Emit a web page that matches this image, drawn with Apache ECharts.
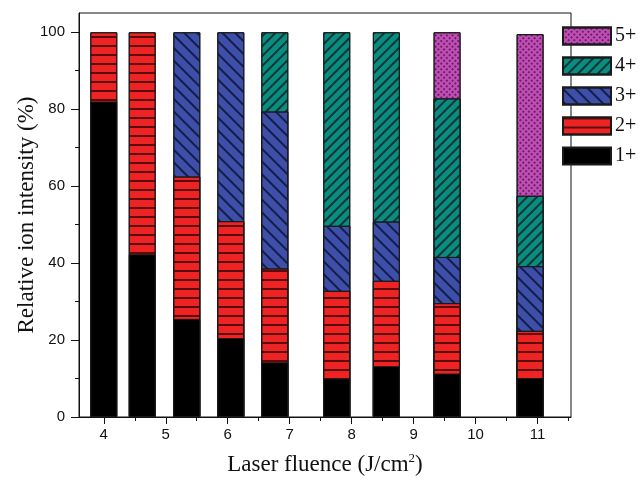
<!DOCTYPE html>
<html>
<head>
<meta charset="utf-8">
<script src="https://cdn.jsdelivr.net/npm/echarts@6/dist/echarts.min.js"></script>
<style>
  html, body { margin: 0; padding: 0; background: #fff; }
  #chart { width: 640px; height: 481px; }
</style>
</head>
<body>
<div id="chart"></div>
<script>
  // laser fluence of each bar (J/cm2)
  var fluence = [4.0, 4.62, 5.34, 6.05, 6.76, 7.76, 8.56, 9.54, 10.88];
  // relative ion intensity per charge state (%)
  var ion1 = [82.0, 42.3, 25.5, 20.5, 14.2, 10.0, 13.2, 11.3, 10.1];
  var ion2 = [18.0, 57.7, 37.0, 30.4, 24.4, 22.8, 22.2, 18.3, 12.3];
  var ion3 = [null, null, 37.5, 49.1, 40.8, 16.9, 15.4, 12.0, 16.8];
  var ion4 = [null, null, null, null, 20.6, 50.3, 49.2, 41.2, 18.3];
  var ion5 = [null, null, null, null, null, null, null, 17.2, 42.0];
  var xTicks = [4, 5, 6, 7, 8, 9, 10, 11];
  var xMinor = [4.5, 5.5, 6.5, 7.5, 8.5, 9.5, 10.5, 11.5];
  var yTicks = [0, 20, 40, 60, 80, 100];
  var yMinor = [10, 30, 50, 70, 90];

  var serif = '"Liberation Serif", "Times New Roman", serif';
  var sans = '"Liberation Sans", Arial, sans-serif';

  // stack on a value axis by hand: each layer is drawn from 0 up to its
  // running total, upper layers behind, lower layers on top
  var layers = [ion1, ion2, ion3, ion4, ion5];
  function cumulative(k) {
    return fluence.map(function (x, i) {
      if (layers[k][i] == null) return [x, null];
      var s = 0;
      for (var j = 0; j <= k; j++) s += layers[j][i] || 0;
      return [x, s];
    });
  }

  function bar(name, k, color, decal) {
    return {
      name: name,
      type: 'bar',
      barWidth: 27,
      barGap: '-100%',
      xAxisIndex: 0,
      yAxisIndex: 0,
      itemStyle: {
        color: color,
        borderColor: '#1a1a1a',
        borderWidth: 1,
        decal: decal
      },
      data: cumulative(k)
    };
  }

  var chart = echarts.init(document.getElementById('chart'));
  chart.setOption({
    animation: false,
    grid: {
      left: 79, right: 69, top: 13, bottom: 63,
      show: true, borderColor: '#111', borderWidth: 1
    },
    legend: {
      orient: 'vertical',
      left: 562, top: 26, padding: 0,
      icon: 'rect',
      itemWidth: 48, itemHeight: 17, itemGap: 10,
      data: ['5+', '4+', '3+', '2+', '1+'],
      textStyle: { fontFamily: serif, fontSize: 20, color: '#111', padding: [0, 0, 0, -1] }
    },
    xAxis: [{
      type: 'value',
      min: 3.6, max: 11.54,
      name: 'Laser fluence (J/cm{sup|2})',
      nameLocation: 'middle',
      nameGap: 35,
      nameMoveOverlap: false,
      nameTextStyle: {
        fontFamily: serif, fontSize: 23, color: '#111',
        rich: { sup: { fontFamily: serif, fontSize: 13, verticalAlign: 'top', padding: [0, 0, 12, 0] } }
      },
      splitLine: { show: false },
      axisLine: { lineStyle: { color: '#111' } },
      axisTick: { customValues: xTicks, length: 7, lineStyle: { color: '#111' } },
      axisLabel: { customValues: xTicks, fontFamily: sans, fontSize: 15, color: '#111', margin: 10 }
    }, {
      type: 'value',
      min: 3.6, max: 11.54,
      position: 'bottom',
      splitLine: { show: false },
      axisLine: { show: false },
      axisTick: { customValues: xMinor, length: 4, lineStyle: { color: '#111' } },
      axisLabel: { show: false }
    }],
    yAxis: [{
      type: 'value',
      min: 0, max: 105,
      name: 'Relative ion intensity (%)',
      nameLocation: 'middle',
      nameGap: 41,
      nameMoveOverlap: false,
      nameTextStyle: { fontFamily: serif, fontSize: 23, color: '#111' },
      splitLine: { show: false },
      axisLine: { show: true, lineStyle: { color: '#111' } },
      axisTick: { show: true, customValues: yTicks, length: 8, lineStyle: { color: '#111' } },
      axisLabel: { customValues: yTicks, fontFamily: sans, fontSize: 15, color: '#111', margin: 14 }
    }, {
      type: 'value',
      min: 0, max: 105,
      position: 'left',
      splitLine: { show: false },
      axisLine: { show: false },
      axisTick: { show: true, customValues: yMinor, length: 4, lineStyle: { color: '#111' } },
      axisLabel: { show: false }
    }],
    series: [
      bar('5+', 4, '#c24cb8', {
        symbol: 'circle', symbolSize: 1, color: '#4a1844',
        dashArrayX: [2, 1.5], dashArrayY: [2, 1.5], rotation: Math.PI / 4
      }),
      bar('4+', 3, '#0a8c80', {
        symbol: 'rect', symbolSize: 1, color: '#0a3532',
        dashArrayX: [1, 0], dashArrayY: [1.2, 4.5], rotation: -Math.PI / 4
      }),
      bar('3+', 2, '#3d4fa8', {
        symbol: 'rect', symbolSize: 1, color: '#141c4a',
        dashArrayX: [1, 0], dashArrayY: [1.1, 6.5], rotation: Math.PI / 4
      }),
      bar('2+', 1, '#ee2323', {
        symbol: 'rect', symbolSize: 1, color: '#5a0c0c',
        dashArrayX: [1, 0], dashArrayY: [1.3, 7]
      }),
      bar('1+', 0, '#000000', null)
    ]
  });
</script>
</body>
</html>
